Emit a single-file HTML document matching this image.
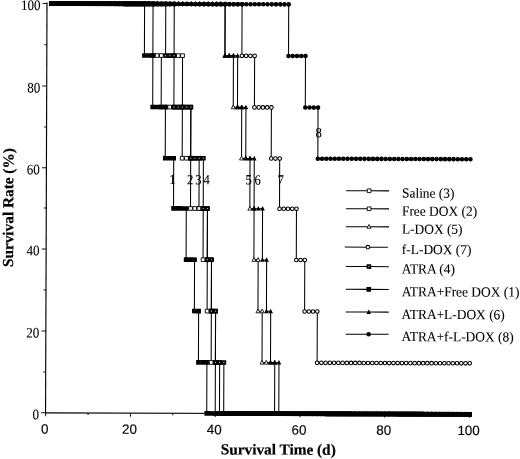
<!DOCTYPE html>
<html><head><meta charset="utf-8"><title>Survival</title>
<style>
html,body{margin:0;padding:0;background:#fff;}
svg{display:block}
.ser{font-family:"Liberation Serif",serif;fill:#000;stroke:#000;stroke-width:0.08}
.bd{stroke-width:0.2}
.san{font-family:"Liberation Sans",sans-serif;fill:#000;stroke:#000;stroke-width:0.15}
</style></head><body>
<svg width="520" height="459" viewBox="0 0 520 459">
<defs>
<marker id="osq" markerUnits="userSpaceOnUse" markerWidth="8" markerHeight="8" refX="4" refY="4"><rect x="2.15" y="2.15" width="3.7" height="3.7" fill="#fff" stroke="#000" stroke-width="0.9"/></marker>
<marker id="fsq" markerUnits="userSpaceOnUse" markerWidth="8" markerHeight="8" refX="4" refY="4"><rect x="1.7" y="1.7" width="4.6" height="4.6" fill="#000"/></marker>
<marker id="dsq" markerUnits="userSpaceOnUse" markerWidth="8" markerHeight="8" refX="4" refY="4"><rect x="1.7" y="1.7" width="4.6" height="4.6" fill="#000"/><rect x="3.4" y="3.4" width="1.2" height="1.2" fill="#aaa"/></marker>
<marker id="otr" markerUnits="userSpaceOnUse" markerWidth="8" markerHeight="8" refX="4" refY="4"><path d="M4 1.7 L6 5.5 L2 5.5 Z" fill="#fff" stroke="#000" stroke-width="0.85"/></marker>
<marker id="ftr" markerUnits="userSpaceOnUse" markerWidth="8" markerHeight="8" refX="4" refY="4"><path d="M4 1.3 L6.3 5.9 L1.7 5.9 Z" fill="#000"/></marker>
<marker id="oci" markerUnits="userSpaceOnUse" markerWidth="8" markerHeight="8" refX="4" refY="4"><circle cx="4" cy="4" r="1.8" fill="#fff" stroke="#000" stroke-width="1.05"/></marker>
<marker id="fci" markerUnits="userSpaceOnUse" markerWidth="8" markerHeight="8" refX="4" refY="4"><circle cx="4" cy="4" r="2.3" fill="#000"/></marker>
</defs>
<g transform="rotate(0.2 260 230)">
<line x1="46.199999999999996" y1="3.3" x2="46.199999999999996" y2="414.1" stroke="#000" stroke-width="1.15"/>
<line x1="46.3" y1="413.6" x2="470.2" y2="413.6" stroke="#000" stroke-width="1.05"/>
<line x1="41.8" y1="413.6" x2="46.3" y2="413.6" stroke="#111" stroke-width="1"/>
<line x1="43.8" y1="372.8" x2="46.3" y2="372.8" stroke="#111" stroke-width="1"/>
<line x1="41.8" y1="331.82" x2="46.3" y2="331.82" stroke="#111" stroke-width="1"/>
<line x1="43.8" y1="290.74" x2="46.3" y2="290.74" stroke="#111" stroke-width="1"/>
<line x1="41.8" y1="249.66" x2="46.3" y2="249.66" stroke="#111" stroke-width="1"/>
<line x1="43.8" y1="208.7" x2="46.3" y2="208.7" stroke="#111" stroke-width="1"/>
<line x1="41.8" y1="168.54" x2="46.3" y2="168.54" stroke="#111" stroke-width="1"/>
<line x1="43.8" y1="127.84" x2="46.3" y2="127.84" stroke="#111" stroke-width="1"/>
<line x1="41.8" y1="86.8" x2="46.3" y2="86.8" stroke="#111" stroke-width="1"/>
<line x1="43.8" y1="45.58" x2="46.3" y2="45.58" stroke="#111" stroke-width="1"/>
<line x1="41.8" y1="4.3" x2="46.3" y2="4.3" stroke="#111" stroke-width="1"/>
<line x1="46.3" y1="413.6" x2="46.3" y2="417.1" stroke="#111" stroke-width="1"/>
<line x1="88.69" y1="413.6" x2="88.69" y2="415.6" stroke="#111" stroke-width="1"/>
<line x1="131.08" y1="413.6" x2="131.08" y2="417.1" stroke="#111" stroke-width="1"/>
<line x1="173.47" y1="413.6" x2="173.47" y2="415.6" stroke="#111" stroke-width="1"/>
<line x1="215.86" y1="413.6" x2="215.86" y2="417.1" stroke="#111" stroke-width="1"/>
<line x1="258.25" y1="413.6" x2="258.25" y2="415.6" stroke="#111" stroke-width="1"/>
<line x1="300.64" y1="413.6" x2="300.64" y2="417.1" stroke="#111" stroke-width="1"/>
<line x1="343.03" y1="413.6" x2="343.03" y2="415.6" stroke="#111" stroke-width="1"/>
<line x1="385.42" y1="413.6" x2="385.42" y2="417.1" stroke="#111" stroke-width="1"/>
<line x1="427.81" y1="413.6" x2="427.81" y2="415.6" stroke="#111" stroke-width="1"/>
<line x1="470.2" y1="413.6" x2="470.2" y2="417.1" stroke="#111" stroke-width="1"/>
<polyline points="50.54,4.3 54.78,4.3 59.02,4.3 63.26,4.3 67.5,4.3 71.73,4.3 75.97,4.3 80.21,4.3 84.45,4.3 88.69,4.3 92.93,4.3 97.17,4.3 101.41,4.3 105.65,4.3 109.88,4.3 114.12,4.3 118.36,4.3 122.6,4.3 126.84,4.3 131.08,4.3 135.32,4.3 139.56,4.3 143.8,4.3 148.04,4.3 152.27,4.3 156.51,4.3 160.75,4.3 164.99,4.3 169.23,4.3 173.47,4.3 173.47,55.9 177.71,55.9 181.95,55.9 181.95,107.4 186.19,107.4 190.43,107.4 190.43,158.5 194.67,158.5 198.9,158.5 198.9,208.7 203.14,208.7 207.38,208.7 207.38,259.9 211.62,259.9 211.62,311.3 215.86,311.3 215.86,362.6 220.1,362.6 220.1,413.6 224.34,413.6 228.58,413.6 232.82,413.6 237.06,413.6 241.29,413.6 245.53,413.6 249.77,413.6 254.01,413.6 258.25,413.6 262.49,413.6 266.73,413.6 270.97,413.6 275.21,413.6 279.44,413.6 283.68,413.6 287.92,413.6 292.16,413.6 296.4,413.6 300.64,413.6 304.88,413.6 309.12,413.6 313.36,413.6 317.6,413.6 321.83,413.6 326.07,413.6 330.31,413.6 334.55,413.6 338.79,413.6 343.03,413.6 347.27,413.6 351.51,413.6 355.75,413.6 359.99,413.6 364.23,413.6 368.46,413.6 372.7,413.6 376.94,413.6 381.18,413.6 385.42,413.6 389.66,413.6 393.9,413.6 398.14,413.6 402.38,413.6 406.62,413.6 410.85,413.6 415.09,413.6 419.33,413.6 423.57,413.6 427.81,413.6 432.05,413.6 436.29,413.6 440.53,413.6 444.77,413.6 449.0,413.6 453.24,413.6 457.48,413.6 461.72,413.6 465.96,413.6 470.2,413.6" fill="none" stroke="#000" stroke-width="1.05" marker-start="url(#osq)" marker-mid="url(#osq)" marker-end="url(#osq)"/>
<polyline points="50.54,4.3 54.78,4.3 59.02,4.3 63.26,4.3 67.5,4.3 71.73,4.3 75.97,4.3 80.21,4.3 84.45,4.3 88.69,4.3 92.93,4.3 97.17,4.3 101.41,4.3 105.65,4.3 109.88,4.3 114.12,4.3 118.36,4.3 122.6,4.3 126.84,4.3 131.08,4.3 135.32,4.3 139.56,4.3 143.8,4.3 148.04,4.3 152.27,4.3 152.27,55.9 156.51,55.9 160.75,55.9 160.75,107.4 164.99,107.4 169.23,107.4 173.47,107.4 177.71,107.4 181.95,107.4 181.95,158.5 186.19,158.5 190.43,158.5 190.43,208.7 194.67,208.7 198.9,208.7 203.14,208.7 203.14,259.9 207.38,259.9 207.38,311.3 211.62,311.3 211.62,362.6 215.86,362.6 215.86,413.6 220.1,413.6 224.34,413.6 228.58,413.6 232.82,413.6 237.06,413.6 241.29,413.6 245.53,413.6 249.77,413.6 254.01,413.6 258.25,413.6 262.49,413.6 266.73,413.6 270.97,413.6 275.21,413.6 279.44,413.6 283.68,413.6 287.92,413.6 292.16,413.6 296.4,413.6 300.64,413.6 304.88,413.6 309.12,413.6 313.36,413.6 317.6,413.6 321.83,413.6 326.07,413.6 330.31,413.6 334.55,413.6 338.79,413.6 343.03,413.6 347.27,413.6 351.51,413.6 355.75,413.6 359.99,413.6 364.23,413.6 368.46,413.6 372.7,413.6 376.94,413.6 381.18,413.6 385.42,413.6 389.66,413.6 393.9,413.6 398.14,413.6 402.38,413.6 406.62,413.6 410.85,413.6 415.09,413.6 419.33,413.6 423.57,413.6 427.81,413.6 432.05,413.6 436.29,413.6 440.53,413.6 444.77,413.6 449.0,413.6 453.24,413.6 457.48,413.6 461.72,413.6 465.96,413.6 470.2,413.6" fill="none" stroke="#000" stroke-width="1.05" marker-start="url(#osq)" marker-mid="url(#osq)" marker-end="url(#osq)"/>
<polyline points="50.54,4.3 54.78,4.3 59.02,4.3 63.26,4.3 67.5,4.3 71.73,4.3 75.97,4.3 80.21,4.3 84.45,4.3 88.69,4.3 92.93,4.3 97.17,4.3 101.41,4.3 105.65,4.3 109.88,4.3 114.12,4.3 118.36,4.3 122.6,4.3 126.84,4.3 131.08,4.3 135.32,4.3 139.56,4.3 143.8,4.3 148.04,4.3 152.27,4.3 156.51,4.3 160.75,4.3 164.99,4.3 169.23,4.3 173.47,4.3 177.71,4.3 181.95,4.3 186.19,4.3 190.43,4.3 194.67,4.3 198.9,4.3 203.14,4.3 207.38,4.3 211.62,4.3 215.86,4.3 220.1,4.3 224.34,4.3 224.34,55.9 228.58,55.9 232.82,55.9 232.82,107.4 237.06,107.4 241.29,107.4 241.29,158.5 245.53,158.5 249.77,158.5 249.77,208.7 254.01,208.7 254.01,259.9 258.25,259.9 258.25,311.3 262.49,311.3 262.49,362.6 266.73,362.6 270.97,362.6 275.21,362.6 275.21,413.6 279.44,413.6 283.68,413.6 287.92,413.6 292.16,413.6 296.4,413.6 300.64,413.6 304.88,413.6 309.12,413.6 313.36,413.6 317.6,413.6 321.83,413.6 326.07,413.6 330.31,413.6 334.55,413.6 338.79,413.6 343.03,413.6 347.27,413.6 351.51,413.6 355.75,413.6 359.99,413.6 364.23,413.6 368.46,413.6 372.7,413.6 376.94,413.6 381.18,413.6 385.42,413.6 389.66,413.6 393.9,413.6 398.14,413.6 402.38,413.6 406.62,413.6 410.85,413.6 415.09,413.6 419.33,413.6 423.57,413.6 427.81,413.6 432.05,413.6 436.29,413.6 440.53,413.6 444.77,413.6 449.0,413.6 453.24,413.6 457.48,413.6 461.72,413.6 465.96,413.6 470.2,413.6" fill="none" stroke="#000" stroke-width="1.05" marker-start="url(#otr)" marker-mid="url(#otr)" marker-end="url(#otr)"/>
<polyline points="50.54,4.3 54.78,4.3 59.02,4.3 63.26,4.3 67.5,4.3 71.73,4.3 75.97,4.3 80.21,4.3 84.45,4.3 88.69,4.3 92.93,4.3 97.17,4.3 101.41,4.3 105.65,4.3 109.88,4.3 114.12,4.3 118.36,4.3 122.6,4.3 126.84,4.3 131.08,4.3 135.32,4.3 139.56,4.3 143.8,4.3 148.04,4.3 152.27,4.3 156.51,4.3 160.75,4.3 164.99,4.3 169.23,4.3 173.47,4.3 177.71,4.3 181.95,4.3 186.19,4.3 190.43,4.3 194.67,4.3 198.9,4.3 203.14,4.3 207.38,4.3 211.62,4.3 215.86,4.3 220.1,4.3 224.34,4.3 228.58,4.3 232.82,4.3 237.06,4.3 241.29,4.3 241.29,55.9 245.53,55.9 249.77,55.9 254.01,55.9 254.01,107.4 258.25,107.4 262.49,107.4 266.73,107.4 270.97,107.4 270.97,158.5 275.21,158.5 279.44,158.5 279.44,208.7 283.68,208.7 287.92,208.7 292.16,208.7 296.4,208.7 296.4,259.9 300.64,259.9 304.88,259.9 304.88,311.3 309.12,311.3 313.36,311.3 317.6,311.3 317.6,362.6 321.83,362.6 326.07,362.6 330.31,362.6 334.55,362.6 338.79,362.6 343.03,362.6 347.27,362.6 351.51,362.6 355.75,362.6 359.99,362.6 364.23,362.6 368.46,362.6 372.7,362.6 376.94,362.6 381.18,362.6 385.42,362.6 389.66,362.6 393.9,362.6 398.14,362.6 402.38,362.6 406.62,362.6 410.85,362.6 415.09,362.6 419.33,362.6 423.57,362.6 427.81,362.6 432.05,362.6 436.29,362.6 440.53,362.6 444.77,362.6 449.0,362.6 453.24,362.6 457.48,362.6 461.72,362.6 465.96,362.6 470.2,362.6" fill="none" stroke="#000" stroke-width="1.05" marker-start="url(#oci)" marker-mid="url(#oci)" marker-end="url(#oci)"/>
<polyline points="50.54,4.3 54.78,4.3 59.02,4.3 63.26,4.3 67.5,4.3 71.73,4.3 75.97,4.3 80.21,4.3 84.45,4.3 88.69,4.3 92.93,4.3 97.17,4.3 101.41,4.3 105.65,4.3 109.88,4.3 114.12,4.3 118.36,4.3 122.6,4.3 126.84,4.3 131.08,4.3 135.32,4.3 139.56,4.3 143.8,4.3 148.04,4.3 152.27,4.3 156.51,4.3 160.75,4.3 164.99,4.3 164.99,55.9 169.23,55.9 173.47,55.9 173.47,107.4 177.71,107.4 181.95,107.4 186.19,107.4 190.43,107.4 190.43,158.5 194.67,158.5 198.9,158.5 203.14,158.5 203.14,208.7 207.38,208.7 207.38,259.9 211.62,259.9 211.62,311.3 215.86,311.3 215.86,362.6 220.1,362.6 224.34,362.6 224.34,413.6 228.58,413.6 232.82,413.6 237.06,413.6 241.29,413.6 245.53,413.6 249.77,413.6 254.01,413.6 258.25,413.6 262.49,413.6 266.73,413.6 270.97,413.6 275.21,413.6 279.44,413.6 283.68,413.6 287.92,413.6 292.16,413.6 296.4,413.6 300.64,413.6 304.88,413.6 309.12,413.6 313.36,413.6 317.6,413.6 321.83,413.6 326.07,413.6 330.31,413.6 334.55,413.6 338.79,413.6 343.03,413.6 347.27,413.6 351.51,413.6 355.75,413.6 359.99,413.6 364.23,413.6 368.46,413.6 372.7,413.6 376.94,413.6 381.18,413.6 385.42,413.6 389.66,413.6 393.9,413.6 398.14,413.6 402.38,413.6 406.62,413.6 410.85,413.6 415.09,413.6 419.33,413.6 423.57,413.6 427.81,413.6 432.05,413.6 436.29,413.6 440.53,413.6 444.77,413.6 449.0,413.6 453.24,413.6 457.48,413.6 461.72,413.6 465.96,413.6 470.2,413.6" fill="none" stroke="#000" stroke-width="1.05" marker-start="url(#dsq)" marker-mid="url(#dsq)" marker-end="url(#dsq)"/>
<polyline points="50.54,4.3 54.78,4.3 59.02,4.3 63.26,4.3 67.5,4.3 71.73,4.3 75.97,4.3 80.21,4.3 84.45,4.3 88.69,4.3 92.93,4.3 97.17,4.3 101.41,4.3 105.65,4.3 109.88,4.3 114.12,4.3 118.36,4.3 122.6,4.3 126.84,4.3 131.08,4.3 135.32,4.3 139.56,4.3 143.8,4.3 143.8,55.9 148.04,55.9 152.27,55.9 152.27,107.4 156.51,107.4 160.75,107.4 164.99,107.4 164.99,158.5 169.23,158.5 173.47,158.5 173.47,208.7 177.71,208.7 181.95,208.7 186.19,208.7 186.19,259.9 190.43,259.9 194.67,259.9 194.67,311.3 198.9,311.3 198.9,362.6 203.14,362.6 207.38,362.6 207.38,413.6 211.62,413.6 215.86,413.6 220.1,413.6 224.34,413.6 228.58,413.6 232.82,413.6 237.06,413.6 241.29,413.6 245.53,413.6 249.77,413.6 254.01,413.6 258.25,413.6 262.49,413.6 266.73,413.6 270.97,413.6 275.21,413.6 279.44,413.6 283.68,413.6 287.92,413.6 292.16,413.6 296.4,413.6 300.64,413.6 304.88,413.6 309.12,413.6 313.36,413.6 317.6,413.6 321.83,413.6 326.07,413.6 330.31,413.6 334.55,413.6 338.79,413.6 343.03,413.6 347.27,413.6 351.51,413.6 355.75,413.6 359.99,413.6 364.23,413.6 368.46,413.6 372.7,413.6 376.94,413.6 381.18,413.6 385.42,413.6 389.66,413.6 393.9,413.6 398.14,413.6 402.38,413.6 406.62,413.6 410.85,413.6 415.09,413.6 419.33,413.6 423.57,413.6 427.81,413.6 432.05,413.6 436.29,413.6 440.53,413.6 444.77,413.6 449.0,413.6 453.24,413.6 457.48,413.6 461.72,413.6 465.96,413.6 470.2,413.6" fill="none" stroke="#000" stroke-width="1.05" marker-start="url(#fsq)" marker-mid="url(#fsq)" marker-end="url(#fsq)"/>
<polyline points="50.54,4.3 54.78,4.3 59.02,4.3 63.26,4.3 67.5,4.3 71.73,4.3 75.97,4.3 80.21,4.3 84.45,4.3 88.69,4.3 92.93,4.3 97.17,4.3 101.41,4.3 105.65,4.3 109.88,4.3 114.12,4.3 118.36,4.3 122.6,4.3 126.84,4.3 131.08,4.3 135.32,4.3 139.56,4.3 143.8,4.3 148.04,4.3 152.27,4.3 156.51,4.3 160.75,4.3 164.99,4.3 169.23,4.3 173.47,4.3 177.71,4.3 181.95,4.3 186.19,4.3 190.43,4.3 194.67,4.3 198.9,4.3 203.14,4.3 207.38,4.3 211.62,4.3 215.86,4.3 220.1,4.3 224.34,4.3 224.34,55.9 228.58,55.9 232.82,55.9 237.06,55.9 237.06,107.4 241.29,107.4 245.53,107.4 245.53,158.5 249.77,158.5 254.01,158.5 254.01,208.7 258.25,208.7 262.49,208.7 262.49,259.9 266.73,259.9 266.73,311.3 270.97,311.3 270.97,362.6 275.21,362.6 279.44,362.6 279.44,413.6 283.68,413.6 287.92,413.6 292.16,413.6 296.4,413.6 300.64,413.6 304.88,413.6 309.12,413.6 313.36,413.6 317.6,413.6 321.83,413.6 326.07,413.6 330.31,413.6 334.55,413.6 338.79,413.6 343.03,413.6 347.27,413.6 351.51,413.6 355.75,413.6 359.99,413.6 364.23,413.6 368.46,413.6 372.7,413.6 376.94,413.6 381.18,413.6 385.42,413.6 389.66,413.6 393.9,413.6 398.14,413.6 402.38,413.6 406.62,413.6 410.85,413.6 415.09,413.6 419.33,413.6 423.57,413.6 427.81,413.6 432.05,413.6 436.29,413.6 440.53,413.6 444.77,413.6 449.0,413.6 453.24,413.6 457.48,413.6 461.72,413.6 465.96,413.6 470.2,413.6" fill="none" stroke="#000" stroke-width="1.05" marker-start="url(#ftr)" marker-mid="url(#ftr)" marker-end="url(#ftr)"/>
<polyline points="50.54,4.3 54.78,4.3 59.02,4.3 63.26,4.3 67.5,4.3 71.73,4.3 75.97,4.3 80.21,4.3 84.45,4.3 88.69,4.3 92.93,4.3 97.17,4.3 101.41,4.3 105.65,4.3 109.88,4.3 114.12,4.3 118.36,4.3 122.6,4.3 126.84,4.3 131.08,4.3 135.32,4.3 139.56,4.3 143.8,4.3 148.04,4.3 152.27,4.3 156.51,4.3 160.75,4.3 164.99,4.3 169.23,4.3 173.47,4.3 177.71,4.3 181.95,4.3 186.19,4.3 190.43,4.3 194.67,4.3 198.9,4.3 203.14,4.3 207.38,4.3 211.62,4.3 215.86,4.3 220.1,4.3 224.34,4.3 228.58,4.3 232.82,4.3 237.06,4.3 241.29,4.3 245.53,4.3 249.77,4.3 254.01,4.3 258.25,4.3 262.49,4.3 266.73,4.3 270.97,4.3 275.21,4.3 279.44,4.3 283.68,4.3 287.92,4.3 287.92,55.9 292.16,55.9 296.4,55.9 300.64,55.9 304.88,55.9 304.88,107.4 309.12,107.4 313.36,107.4 317.6,107.4 317.6,158.5 321.83,158.5 326.07,158.5 330.31,158.5 334.55,158.5 338.79,158.5 343.03,158.5 347.27,158.5 351.51,158.5 355.75,158.5 359.99,158.5 364.23,158.5 368.46,158.5 372.7,158.5 376.94,158.5 381.18,158.5 385.42,158.5 389.66,158.5 393.9,158.5 398.14,158.5 402.38,158.5 406.62,158.5 410.85,158.5 415.09,158.5 419.33,158.5 423.57,158.5 427.81,158.5 432.05,158.5 436.29,158.5 440.53,158.5 444.77,158.5 449.0,158.5 453.24,158.5 457.48,158.5 461.72,158.5 465.96,158.5 470.2,158.5" fill="none" stroke="#000" stroke-width="1.05" marker-start="url(#fci)" marker-mid="url(#fci)" marker-end="url(#fci)"/>
<text transform="translate(39.70,420.10) scale(0.9,1)" text-anchor="end" class="ser" font-size="14.5">0</text>
<text transform="translate(39.70,338.32) scale(0.9,1)" text-anchor="end" class="ser" font-size="14.5">20</text>
<text transform="translate(39.70,256.16) scale(0.9,1)" text-anchor="end" class="ser" font-size="14.5">40</text>
<text transform="translate(39.70,175.04) scale(0.9,1)" text-anchor="end" class="ser" font-size="14.5">60</text>
<text transform="translate(39.70,93.30) scale(0.9,1)" text-anchor="end" class="ser" font-size="14.5">80</text>
<text transform="translate(39.70,10.80) scale(0.9,1)" text-anchor="end" class="ser" font-size="14.5">100</text>
<text transform="translate(45.40,434.30) scale(1,1)" text-anchor="middle" class="san" font-size="13.4">0</text>
<text transform="translate(130.18,434.30) scale(1,1)" text-anchor="middle" class="san" font-size="13.4">20</text>
<text transform="translate(214.96,434.30) scale(1,1)" text-anchor="middle" class="san" font-size="13.4">40</text>
<text transform="translate(299.74,434.30) scale(1,1)" text-anchor="middle" class="san" font-size="13.4">60</text>
<text transform="translate(384.52,434.30) scale(1,1)" text-anchor="middle" class="san" font-size="13.4">80</text>
<text transform="translate(469.30,434.30) scale(1,1)" text-anchor="middle" class="san" font-size="13.4">100</text>
<text x="279" y="454.5" text-anchor="middle" class="ser bd" font-weight="bold" font-size="15.3">Survival Time (d)</text>
<text transform="translate(13.2,208.5) rotate(-90)" text-anchor="middle" class="ser bd" font-weight="bold" font-size="15.3">Survival Rate (%)</text>
<text transform="translate(172.30,184.40) scale(0.9,1)" text-anchor="middle" class="ser" font-size="14">1</text>
<text transform="translate(190.00,184.40) scale(0.9,1)" text-anchor="middle" class="ser" font-size="14">2</text>
<text transform="translate(198.30,184.40) scale(0.9,1)" text-anchor="middle" class="ser" font-size="14">3</text>
<text transform="translate(206.50,184.40) scale(0.9,1)" text-anchor="middle" class="ser" font-size="14">4</text>
<text transform="translate(248.50,184.40) scale(0.9,1)" text-anchor="middle" class="ser" font-size="14">5</text>
<text transform="translate(257.50,184.40) scale(0.9,1)" text-anchor="middle" class="ser" font-size="14">6</text>
<text transform="translate(280.60,184.40) scale(0.9,1)" text-anchor="middle" class="ser" font-size="14">7</text>
<text transform="translate(318.40,137.00) scale(0.9,1)" text-anchor="middle" class="ser" font-size="14">8</text>
<polyline points="346,190.4 369,190.4 389,190.4" fill="none" stroke="#000" stroke-width="1.05" marker-mid="url(#osq)"/>
<text transform="translate(401.90,197.10) scale(0.965,1)" text-anchor="start" class="ser" font-size="13.9">Saline (3)</text>
<polyline points="346,208.4 369,208.4 389,208.4" fill="none" stroke="#000" stroke-width="1.05" marker-mid="url(#osq)"/>
<text transform="translate(401.90,215.10) scale(0.965,1)" text-anchor="start" class="ser" font-size="13.9">Free DOX (2)</text>
<polyline points="346,226.4 369,226.4 389,226.4" fill="none" stroke="#000" stroke-width="1.05" marker-mid="url(#otr)"/>
<text transform="translate(401.90,233.10) scale(0.965,1)" text-anchor="start" class="ser" font-size="13.9">L-DOX (5)</text>
<polyline points="344.9,246.8 367.9,246.8 387.9,246.8" fill="none" stroke="#000" stroke-width="1.05" marker-mid="url(#oci)"/>
<text transform="translate(401.90,253.50) scale(0.965,1)" text-anchor="start" class="ser" font-size="13.9">f-L-DOX (7)</text>
<polyline points="346,266.2 369,266.2 389,266.2" fill="none" stroke="#000" stroke-width="1.05" marker-mid="url(#dsq)"/>
<text transform="translate(401.90,272.90) scale(0.965,1)" text-anchor="start" class="ser" font-size="13.9">ATRA (4)</text>
<polyline points="346,289.0 369,289.0 389,289.0" fill="none" stroke="#000" stroke-width="1.05" marker-mid="url(#fsq)"/>
<text transform="translate(401.90,295.70) scale(0.965,1)" text-anchor="start" class="ser" font-size="13.9">ATRA+Free DOX (1)</text>
<polyline points="346,311.7 369,311.7 389,311.7" fill="none" stroke="#000" stroke-width="1.05" marker-mid="url(#ftr)"/>
<text transform="translate(401.90,318.40) scale(0.965,1)" text-anchor="start" class="ser" font-size="13.9">ATRA+L-DOX (6)</text>
<polyline points="346,333.9 369,333.9 389,333.9" fill="none" stroke="#000" stroke-width="1.05" marker-mid="url(#fci)"/>
<text transform="translate(401.90,340.60) scale(0.965,1)" text-anchor="start" class="ser" font-size="13.9">ATRA+f-L-DOX (8)</text>
</g>
</svg>
</body></html>
